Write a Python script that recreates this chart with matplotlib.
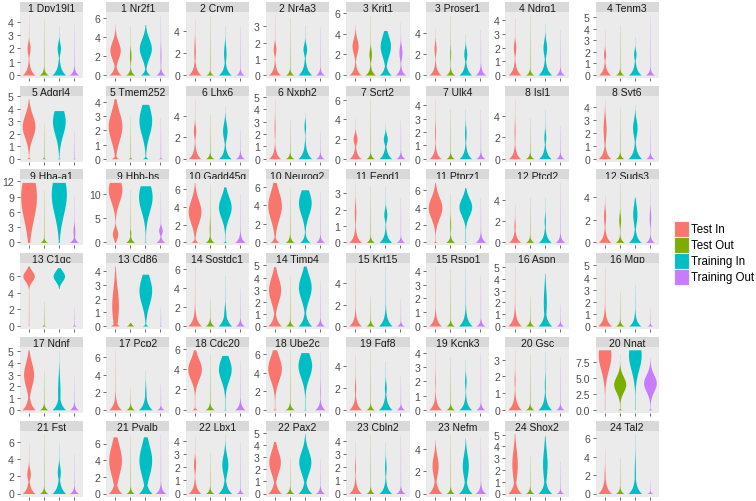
import numpy as np
import matplotlib.pyplot as plt
from matplotlib.patches import Rectangle

plt.rcParams['font.family'] = ['Liberation Sans', 'DejaVu Sans']

groups = ["Test In", "Test Out", "Training In", "Training Out"]
colors = ["#F8766D", "#7CAE00", "#00BFC4", "#C77CFF"]

genes = ["1 Dpy19l1", "1 Nr2f1", "2 Crym", "2 Nr4a3", "3 Krit1", "3 Proser1", "4 Ndrg1", "4 Tenm3",
         "5 Adgrl4", "5 Tmem252", "6 Lhx6", "6 Nxph2", "7 Scrt2", "7 Ulk4", "8 Isl1", "8 Syt6",
         "9 Hba-a1", "9 Hbb-bs", "10 Gadd45g", "10 Neurog2", "11 Eepd1", "11 Ptprz1", "12 Ptcd2", "12 Suds3",
         "13 C1qc", "13 Cd86", "14 Sostdc1", "14 Timp4", "15 Krt15", "15 Rspo1", "16 Aspn", "16 Mgp",
         "17 Ndnf", "17 Pcp2", "18 Cdc20", "18 Ube2c", "19 Fgf8", "19 Kcnk3", "20 Gsc", "20 Nnat",
         "21 Fst", "21 Pvalb", "22 Lbx1", "22 Pax2", "23 Cbln2", "23 Nefm", "24 Shox2", "24 Tal2"]

tick_step = [1, 2, 2, 1, 2, 2, 1, 1,
             1, 1, 2, 1, 2, 1, 2, 1,
             3, 5, 2, 2, 1, 2, 2, 2,
             2, 1, 2, 1, 2, 1, 1, 1,
             1, 2, 2, 2, 2, 1, 1, 2.5,
             2, 2, 1, 1, 1, 2, 1, 2]

# max expression per violin (Test In, Test Out, Training In, Training Out)
tops = [[4.5, 4.15, 3.65, 3.9], [5.4, 5.2, 5.3, 6.3], [5.1, 5.5, 4.6, 4.6], [3.7, 3.55, 3.1, 3.0],
        [4.9, 5.8, 4.3, 5.1], [4.5, 5.7, 3.9, 4.3], [4.2, 4.4, 3.8, 3.35], [3.95, 4.35, 3.35, 5.2],
        [4.8, 2.8, 3.85, 2.3], [4.25, 3.0, 3.85, 2.9], [5.6, 4.15, 4.9, 2.8], [4.85, 3.2, 3.8, 2.25],
        [4.1, 6.1, 3.6, 3.95], [4.5, 3.75, 3.75, 3.7], [5.6, 3.8, 4.6, 3.1], [4.65, 3.95, 4.2, 3.1],
        [11.8, 10.3, 11.8, 9.2], [12.5, 11.0, 11.8, 10.6], [6.8, 6.6, 6.3, 5.6], [6.5, 5.9, 5.7, 5.6],
        [3.65, 3.45, 3.45, 2.75], [6.9, 5.7, 6.3, 5.2], [3.6, 4.2, 4.2, 5.6], [4.2, 5.3, 4.0, 5.2],
        [7.2, 3.0, 7.0, 2.3], [4.4, 0.25, 3.8, 1.35], [6.3, 2.9, 5.3, 4.0], [4.9, 4.1, 4.95, 3.8],
        [5.4, 2.9, 5.6, 2.6], [4.35, 4.15, 4.25, 3.7], [5.1, 2.6, 4.5, 1.9], [4.95, 2.85, 3.45, 1.5],
        [5.1, 3.35, 5.0, 2.95], [6.8, 2.5, 4.5, 3.0], [5.9, 5.5, 5.35, 4.9], [6.5, 6.5, 6.2, 6.4],
        [5.1, 5.5, 4.5, 3.15], [4.2, 3.7, 3.55, 4.05], [3.6, 3.35, 3.55, 3.2], [9.4, 8.8, 9.4, 8.2],
        [5.9, 7.0, 5.9, 4.6], [6.8, 7.0, 6.8, 7.2], [4.35, 3.1, 4.55, 4.0], [4.3, 3.05, 4.95, 2.9],
        [4.05, 4.6, 4.0, 4.5], [4.9, 5.4, 5.0, 5.1], [5.1, 3.3, 4.9, 2.8], [4.9, 4.0, 6.5, 1.6]]

# half width of the zero spike
base_w = [[.42, .3, .45, .32], [.4, .3, .32, .3], [.42, .25, .42, .28], [.4, .28, .45, .3],
          [.4, .35, .4, .35], [.4, .3, .42, .35], [.42, .28, .45, .3], [.4, .28, .42, .3],
          [.15, .15, .12, .12], [.25, .15, .2, .15], [.42, .28, .42, .3], [.4, .28, .45, .28],
          [.4, .28, .42, .3], [.4, .28, .42, .3], [.4, .28, .42, .28], [.42, .28, .45, .28],
          [.1, .25, .1, .3], [.05, .3, .1, .3], [.25, .3, .15, .35], [.3, .3, .35, .3],
          [.42, .28, .42, .28], [.15, .3, .12, .35], [.4, .28, .42, .32], [.42, .3, .42, .3],
          [.05, .15, 0, .15], [.3, .25, .2, .1], [.45, .3, .45, .3], [.45, .28, .45, .3],
          [.42, .28, .45, .25], [.42, .28, .45, .3], [.45, .28, .45, .25], [.45, .28, .4, .2],
          [.45, .28, .45, .3], [.42, .28, .45, .25], [.2, .3, .1, .35], [.15, .3, .1, .35],
          [.42, .28, .45, .28], [.42, .28, .42, .3], [.45, .28, .45, .28], [.03, .15, .03, .15],
          [.42, .28, .45, .3], [.45, .28, .45, .35], [.42, .28, .45, .25], [.45, .28, .45, .3],
          [.42, .28, .42, .3], [.45, .28, .45, .35], [.45, .28, .45, .25], [.45, .28, .45, .2]]

# position, half width and spread of the upper mode
mode_y = [[2.0, 0, 2.0, 0], [2.6, 2.0, 2.8, 2.0], [2.2, 0, 2.0, 0], [1.6, 0, 1.6, 0],
          [2.8, 2.0, 2.8, 2.2], [2.5, 2.0, 2.0, 0], [2.0, 0, 2.0, 0], [1.8, 0, 1.8, 0],
          [2.6, 0, 3.0, 0], [2.3, 0, 2.7, 0], [2.6, 0, 2.6, 0], [2.5, 0, 2.6, 0],
          [2.0, 0, 2.0, 0], [2.0, 0, 1.9, 0], [2.5, 0, 2.0, 0], [2.3, 0, 2.4, 0],
          [9.0, 0, 9.5, 2.2], [11.0, 2.0, 9.5, 2.5], [3.5, 1.5, 4.0, 0], [4.0, 0, 4.3, 0],
          [1.8, 0, 1.7, 0], [4.0, 2.0, 4.1, 0], [1.5, 0, 2.0, 0], [2.3, 2.0, 2.5, 2.2],
          [6.0, 0, 6.0, 0], [1.5, 0, 2.6, 0], [0, 0, 1.0, 0], [3.0, 0, 3.2, 0],
          [0, 0, 0, 0], [0, 0, 0, 0], [0, 0, 2.0, 0], [0, 0, 0, 0],
          [3.0, 0, 1.5, 0], [0, 0, 1.5, 0], [4.0, 0, 4.0, 0], [4.5, 0, 4.8, 2.0],
          [2.0, 0, 2.0, 0], [2.0, 0, 2.0, 0], [1.8, 0, 1.5, 0], [8.6, 4.0, 8.6, 4.2],
          [2.3, 0, 2.5, 0], [4.0, 0, 4.0, 0], [2.2, 0, 2.2, 0], [2.6, 0, 2.6, 0],
          [2.0, 0, 2.0, 0], [2.5, 0, 2.5, 0], [2.5, 0, 2.5, 0], [1.5, 0, 2.0, 0]]

mode_w = [[.10, 0, .11, 0], [.34, .05, .4, .03], [.05, 0, .08, 0], [.09, 0, .12, 0],
          [.2, .08, .34, .1], [.07, .03, .1, 0], [.08, 0, .12, 0], [.07, 0, .08, 0],
          [.42, 0, .42, 0], [.45, 0, .42, 0], [.08, 0, .15, 0], [.03, 0, .05, 0],
          [.13, 0, .13, 0], [.03, 0, .05, 0], [.03, 0, .06, 0], [.1, 0, .15, 0],
          [.52, 0, .5, .06], [.45, .04, .45, .12], [.42, .03, .42, 0], [.45, 0, .42, 0],
          [.05, 0, .1, 0], [.45, .03, .42, 0], [.04, 0, .04, 0], [.07, .06, .14, .05],
          [.38, 0, .38, 0], [.22, 0, .42, 0], [0, 0, .08, 0], [.4, 0, .42, 0],
          [0, 0, 0, 0], [0, 0, 0, 0], [0, 0, .1, 0], [0, 0, 0, 0],
          [.33, 0, .08, 0], [0, 0, .05, 0], [.45, 0, .42, 0], [.45, 0, .45, .02],
          [.04, 0, .06, 0], [.02, 0, .05, 0], [.03, 0, .03, 0], [.42, .4, .42, .42],
          [.12, 0, .1, 0], [.42, 0, .42, 0], [.07, 0, .2, 0], [.38, 0, .4, 0],
          [.03, 0, .05, 0], [.2, 0, .2, 0], [.18, 0, .15, 0], [.04, 0, .04, 0]]

mode_s = [[.4, 0, .4, 0], [.9, .6, 1.0, 1.0], [.8, 0, .7, 0], [.3, 0, .3, 0],
          [.7, .5, 1.0, .6], [.5, .6, .5, 0], [.4, 0, .5, 0], [.35, 0, .35, 0],
          [.9, 0, 1.1, 0], [1.0, 0, 1.0, 0], [.5, 0, .7, 0], [.7, 0, .4, 0],
          [.45, 0, .45, 0], [.6, 0, .5, 0], [.8, 0, .5, 0], [.8, 0, .6, 0],
          [4.5, 0, 4.0, 1.0], [2.5, .6, 3.0, .7], [1.3, 1.0, 1.2, 0], [1.5, 0, 1.3, 0],
          [.5, 0, .3, 0], [1.2, .8, 1.0, 0], [.5, 0, .5, 0], [.6, .5, .8, .6],
          [.6, 0, .6, 0], [1.3, 0, 1.0, 0], [0, 0, .8, 0], [1.0, 0, 1.0, 0],
          [0, 0, 0, 0], [0, 0, 0, 0], [0, 0, 1.2, 0], [0, 0, 0, 0],
          [1.0, 0, 1.2, 0], [0, 0, 1.0, 0], [1.0, 0, 1.1, 0], [1.3, 0, 1.3, 1.0],
          [.6, 0, .5, 0], [.5, 0, .4, 0], [.4, 0, .5, 0], [2.3, 1.2, 2.3, 1.3],
          [.6, 0, .7, 0], [1.8, 0, 1.8, 0], [.45, 0, .7, 0], [.9, 0, .9, 0],
          [.5, 0, .5, 0], [.9, 0, 1.0, 0], [1.2, 0, 1.2, 0], [1.0, 0, 1.5, 0]]

# second mode for a few violins, and violins that do not reach zero
extra_modes = {(17, 0): (1.8, .18, 1.0)}
bottoms = {(24, 2): 4.5}

W, H = 756, 502
col_left = [19.5, 106, 185.5, 265.5, 346, 426, 505.5, 595.5]
row_top = [3, 86.7, 170.4, 254, 337.8, 421.5]
pw, strip_h, ph = 63.5, 10, 66

fig = plt.figure(figsize=(W / 100, H / 100), dpi=100)


def box(x, y, w, h):
    return [x / W, 1 - (y + h) / H, w / W, h / H]


for k, gene in enumerate(genes):
    r, c = divmod(k, 8)
    x0, y0 = col_left[c], row_top[r]
    ax = fig.add_axes(box(x0, y0 + strip_h, pw, ph))
    ax.set_facecolor('#EBEBEB')
    T = max(tops[k])
    for j in range(4):
        top = tops[k][j]
        bot = bottoms.get((k, j), 0.0)
        y = np.linspace(bot, top, 500)
        frac = (y - bot) / (top - bot)
        w = 0.014 - 0.010 * frac     # thin tail up to the max value
        w0 = base_w[k][j]
        if w0 > 0:
            w = np.maximum(w, w0 * np.exp(-y / (0.5 * T * w0 ** 2)))
        if mode_w[k][j] > 0:
            w = np.maximum(w, mode_w[k][j] * np.exp(-0.5 * ((y - mode_y[k][j]) / mode_s[k][j]) ** 2))
        if (k, j) in extra_modes:
            m, mw, ms = extra_modes[(k, j)]
            w = np.maximum(w, mw * np.exp(-0.5 * ((y - m) / ms) ** 2))
        ax.fill_betweenx(y, j + 1 - w, j + 1 + w, color=colors[j], lw=0)
    ax.set_xlim(0.4, 4.6)
    ax.set_ylim(-0.05 * T, 1.05 * T)
    step = tick_step[k]
    ticks = np.arange(0, 1.05 * T + 1e-9, step)
    ax.set_yticks(ticks)
    if step != int(step):
        ax.set_yticklabels([f"{t:.1f}" for t in ticks])
    else:
        ax.set_yticklabels([f"{int(t)}" for t in ticks])
    ax.set_xticks([1, 2, 3, 4])
    ax.set_xticklabels([])
    ax.tick_params(length=2.5, width=0.5, color='#333333', labelsize=7.6,
                   labelcolor='#4D4D4D', pad=1.5)
    for s in ax.spines.values():
        s.set_visible(False)

    sax = fig.add_axes(box(x0, y0, pw, strip_h))
    sax.set_facecolor('#D9D9D9')
    sax.set_xticks([])
    sax.set_yticks([])
    for s in sax.spines.values():
        s.set_visible(False)
    sax.text(0.5, 0.08, gene, ha='center', va='baseline', fontsize=7.5,
             color='#1A1A1A', transform=sax.transAxes, clip_on=True)

# legend
for j, g in enumerate(groups):
    ky = 222.3 + j * 15.85
    fig.patches.append(Rectangle((674 / W, 1 - (ky + 15.85) / H), 15.3 / W, 15.85 / H,
                                 transform=fig.transFigure, facecolor=colors[j],
                                 edgecolor='#F2F2F2', lw=0.8))
    fig.text(691 / W, 1 - (ky + 7.9) / H, g, ha='left', va='center', fontsize=8.3, color='black')

fig.savefig('out.png', dpi=100)
